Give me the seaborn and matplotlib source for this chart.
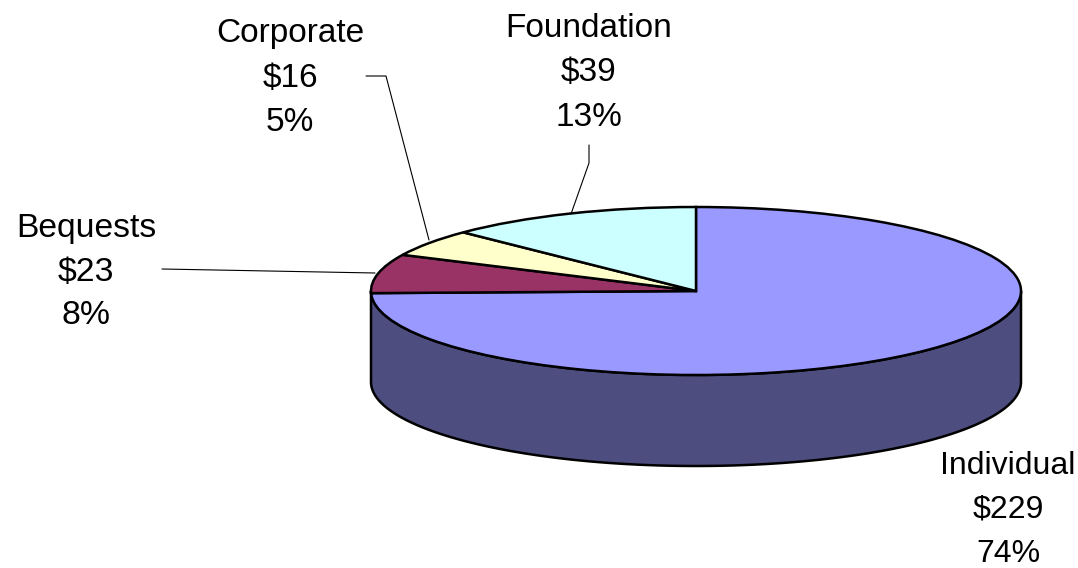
"""
plot.py - contributions by source, tilted pie with a side wall
"""

import numpy as np
import matplotlib
matplotlib.use("Agg")
import matplotlib.pyplot as plt
import seaborn as sns

# ── Data ──────────────────────────────────────────────────────────────────────

sources = ["Individual", "Bequests", "Corporate", "Foundation"]
amounts = [229, 23, 16, 39]
percent_labels = ["74%", "8%", "5%", "13%"]
slice_colors = ["#9999FF", "#993366", "#FFFFCC", "#CCFFFF"]
wall_color = "#4D4D80"

# ── Layout, in picture pixels ─────────────────────────────────────────────────

WIDTH, HEIGHT = 1078, 568
CX, CY = 696, 291
RX, RY = 325, 84
DEPTH = 91

label_pos = {
    "Individual": (1008, 510),
    "Bequests": (86, 272),
    "Corporate": (290, 78),
    "Foundation": (589, 73),
}
label_size = {"Individual": 23.0, "Bequests": 24.3, "Corporate": 24.0, "Foundation": 24.0}
leaders = {
    "Bequests": [(162, 269), (375, 273)],
    "Corporate": [(366, 76), (386, 76), (429, 240)],
    "Foundation": [(589, 145), (589, 163), (571, 214)],
}


def px(x, y):
    """Picture pixels to pie units (the ellipse is the unit circle here)."""
    return (x - CX) / RX, (CY - y) / RY


sns.set_theme(style="white")
plt.rcParams["font.family"] = ["Liberation Sans", "DejaVu Sans"]

fig = plt.figure(figsize=(WIDTH / 100, HEIGHT / 100), dpi=100)
ax = fig.add_axes([0, 0, 1, 1])

wedges, _ = ax.pie(
    amounts,
    colors=sns.color_palette(slice_colors),
    startangle=90,
    counterclock=False,
    radius=1,
    wedgeprops={"edgecolor": "black", "linewidth": 1.8, "zorder": 3},
)

# side wall: lower half of the ellipse pushed down by the depth
theta = np.linspace(np.pi, 2 * np.pi, 200)
wall_x = np.concatenate([np.cos(theta), np.cos(theta[::-1])])
wall_y = np.concatenate([np.sin(theta), np.sin(theta[::-1]) - DEPTH / RY])
ax.fill(wall_x, wall_y, facecolor=wall_color, edgecolor="black", linewidth=1.8, zorder=2)

# leader lines
for name, points in leaders.items():
    xs, ys = zip(*[px(x, y) for x, y in points])
    ax.plot(xs, ys, color="black", linewidth=0.8, zorder=4)

# labels
for name, amount, pct in zip(sources, amounts, percent_labels):
    lx, ly = px(*label_pos[name])
    size = label_size[name]
    ax.text(lx, ly, f"{name}\n\\${amount}\n{pct}", ha="center", va="center",
            fontsize=size, color="black", linespacing=1.55 * 24 / size, zorder=5)

ax.set_aspect("auto")
ax.set_xlim((0 - CX) / RX, (WIDTH - CX) / RX)
ax.set_ylim((CY - HEIGHT) / RY, CY / RY)
ax.axis("off")

fig.savefig("out.png", dpi=100, facecolor="white")
